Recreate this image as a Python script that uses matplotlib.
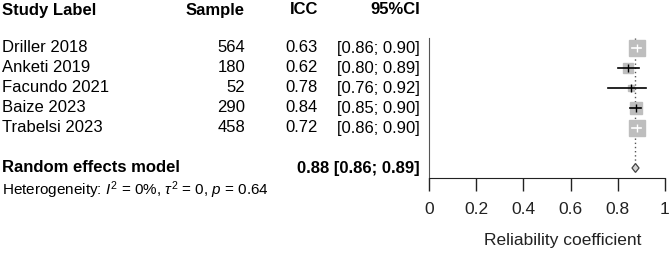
import matplotlib
matplotlib.use("Agg")
import matplotlib.pyplot as plt
from matplotlib.patches import Polygon

plt.rcParams['font.family'] = ['Liberation Sans', 'DejaVu Sans']
plt.rcParams['mathtext.fontset'] = 'custom'
plt.rcParams['mathtext.rm'] = 'Liberation Sans'
plt.rcParams['mathtext.it'] = 'Liberation Sans:italic'

studies = ["Driller 2018", "Anketi 2019", "Facundo 2021", "Baize 2023", "Trabelsi 2023"]
samples = ["564", "180", "52", "290", "458"]
icc_text = ["0.63", "0.62", "0.78", "0.84", "0.72"]
ci_text = ["[0.86; 0.90]", "[0.80; 0.89]", "[0.76; 0.92]", "[0.85; 0.90]", "[0.86; 0.90]"]
est = [0.88, 0.845, 0.855, 0.878, 0.88]
lower = [0.86, 0.80, 0.76, 0.85, 0.86]
upper = [0.90, 0.89, 0.92, 0.90, 0.90]
weights = [25, 10, 2, 14, 25]
pooled = 0.875
pooled_lo = 0.86
pooled_hi = 0.89
pooled_text = "0.88 [0.86; 0.89]"
xticks = [0, 0.2, 0.4, 0.6, 0.8, 1]

W, H = 669, 260
fig = plt.figure(figsize=(W / 100, H / 100), dpi=100)
# forest panel: x 429..665 px, y 38..178 px
x0, x1, y0, y1 = 429, 665, 38, 178
ax = fig.add_axes([x0 / W, 1 - y1 / H, (x1 - x0) / W, (y1 - y0) / H])
ax.set_xlim(0, 1)
ax.set_ylim(7.5, 0.5)

rows = list(range(1, len(studies) + 1))
fs = 12

for r, e, lo, hi, w in zip(rows, est, lower, upper, weights):
    msize = 2.2 * w ** 0.5 + 0.5
    ax.plot(e, r, marker='s', ms=msize, color='#bebebe', mec='#bebebe', zorder=2)
    # CI drawn white when it fits inside the square
    sq_half = msize * 100 / 72 / 2 / (x1 - x0)
    inside = (e - lo) < sq_half and (hi - e) < sq_half
    c = 'white' if inside else 'black'
    ax.plot([lo, hi], [r, r], color=c, lw=1.2, zorder=3)
    ax.plot(e, r, marker='|', ms=6, mew=1.0, color=c, zorder=3)

# pooled diamond
sr = 7
dh = 0.22
ax.add_patch(Polygon([[pooled_lo, sr], [pooled, sr - dh], [pooled_hi, sr], [pooled, sr + dh]],
                     closed=True, fc='#d3d3d3', ec='#444444', lw=0.9, zorder=3))
ax.plot([pooled, pooled], [0.5, sr - dh], color='#555555', lw=1.0, ls=(0, (1, 2)), zorder=1)

ax.spines['top'].set_visible(False)
ax.spines['right'].set_visible(False)
ax.spines['left'].set_color('#555555')
ax.spines['bottom'].set_color('#222222')
ax.set_yticks([])
ax.set_xticks(xticks)
ax.set_xticklabels(["0", "0.2", "0.4", "0.6", "0.8", "1"], fontsize=12.5, color='#222222')
ax.tick_params(axis='x', length=9, width=1, direction='out', pad=8, color='#222222')

# text columns
tr = ax.get_yaxis_transform()
def fx(px):
    return (px - x0) / (x1 - x0)

hdr = -0.9
ax.text(fx(2), hdr, "Study Label", transform=tr, ha='left', va='center', fontsize=fs, fontweight='bold', clip_on=False)
ax.text(fx(245), hdr, "Sample", transform=tr, ha='right', va='center', fontsize=fs, fontweight='bold', clip_on=False)
ax.text(fx(318), hdr, "ICC", transform=tr, ha='right', va='center', fontsize=fs, fontweight='bold', clip_on=False)
ax.text(fx(420), hdr, "95%CI", transform=tr, ha='right', va='center', fontsize=fs, fontweight='bold', clip_on=False)

for r, s, n, ic, ci in zip(rows, studies, samples, icc_text, ci_text):
    ax.text(fx(2), r, s, transform=tr, ha='left', va='center', fontsize=fs, clip_on=False)
    ax.text(fx(245), r, n, transform=tr, ha='right', va='center', fontsize=fs, clip_on=False)
    ax.text(fx(318), r, ic, transform=tr, ha='right', va='center', fontsize=fs, clip_on=False)
    ax.text(fx(420), r, ci, transform=tr, ha='right', va='center', fontsize=fs, clip_on=False)

ax.text(fx(2), sr, "Random effects model", transform=tr, ha='left', va='center', fontsize=fs, fontweight='bold', clip_on=False)
ax.text(fx(420), sr, pooled_text, transform=tr, ha='right', va='center', fontsize=fs, fontweight='bold', clip_on=False)
ax.text(fx(2), 8.1, r"Heterogeneity: $I^2$ = 0%, $\tau^2$ = 0, $p$ = 0.64", transform=tr,
        ha='left', va='center', fontsize=11, clip_on=False)

ax.text(fx(563), 10.6, "Reliability coefficient", transform=tr, ha='center', va='center', fontsize=12.5, color='#222222', clip_on=False)

fig.savefig("out.png", dpi=100)
